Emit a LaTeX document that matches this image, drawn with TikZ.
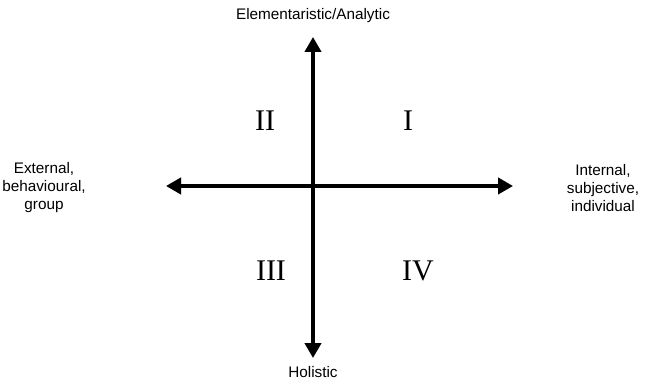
\documentclass[tikz,border=0pt]{standalone}
\usepackage{fontspec}
\setmainfont{Liberation Serif}
\setsansfont{Liberation Sans}
\usepackage{tikz}
\usetikzlibrary{arrows.meta,positioning}
\definecolor{axisshade}{HTML}{BDBDBD}

\begin{document}
\begin{tikzpicture}[x=1pt,y=-1pt,
    axis/.style={line width=4.5pt,{Triangle[length=15pt,width=16pt]}-{Triangle[length=15pt,width=16pt]}},
    endlabel/.style={align=center,font=\sffamily\fontsize{15.3}{18}\selectfont},
    quadrant/.style={font=\fontsize{30}{32}\selectfont}]
  \useasboundingbox (0,0) rectangle (669,385);

  \coordinate (west) at (166,186);
  \coordinate (east) at (513,186);
  \coordinate (north) at (313,37);
  \coordinate (south) at (313,358);

  % shadow first, then the axes
  \begin{scope}[shift={(2.5,2.5)}]
    \draw[axis,axisshade] (west) -- (east);
    \draw[axis,axisshade] (north) -- (south);
  \end{scope}
  \draw[axis] (west) -- (east);
  \draw[axis] (north) -- (south);

  \node[endlabel] (top) at (313,16) {Elementaristic/Analytic};
  \node[endlabel] (bottom) at (313,372) {Holistic};
  \node[endlabel] (left) at (44,188) {External,\\behavioural,\\group};
  \node[endlabel] (right) at (603,188) {Internal,\\subjective,\\individual};

  \node[quadrant] (q1) at (408,121) {I};
  \node[quadrant] (q2) at (265,121) {II};
  \node[quadrant] (q3) at (271,271) {III};
  \node[quadrant] (q4) at (418,271) {IV};
\end{tikzpicture}
\end{document}
